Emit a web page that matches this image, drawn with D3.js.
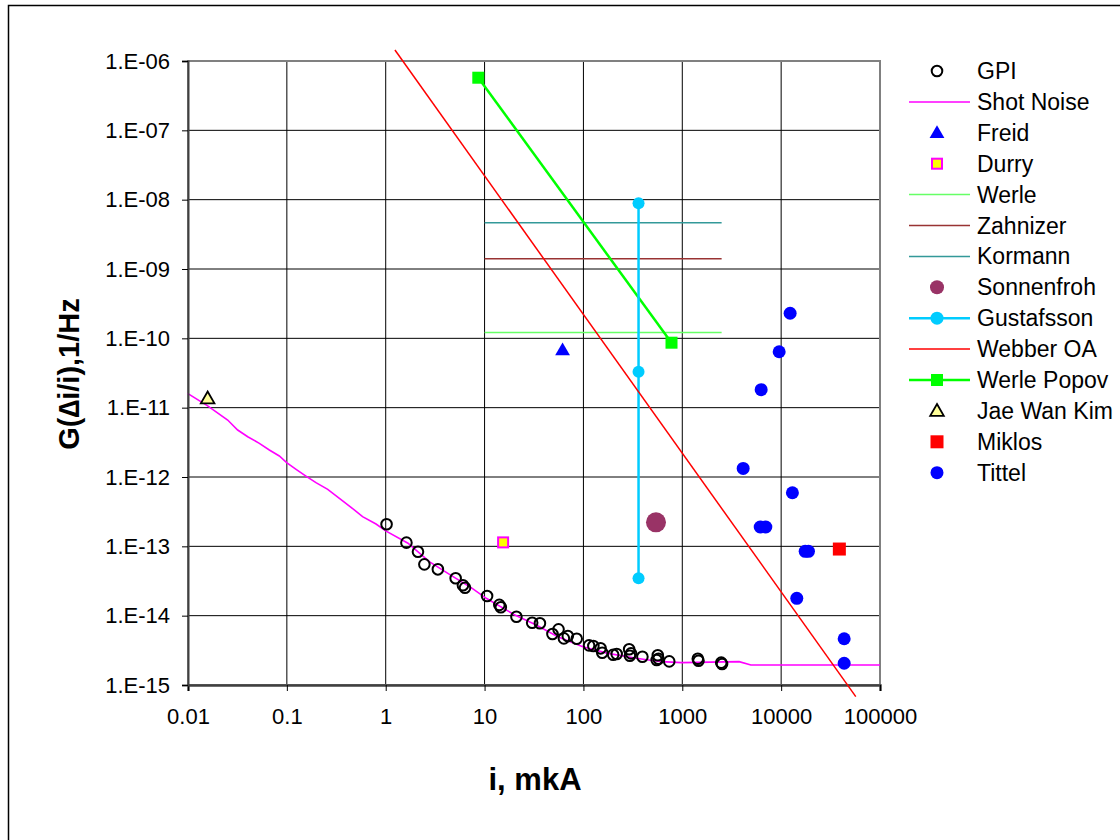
<!DOCTYPE html>
<html><head><meta charset="utf-8">
<script src="https://cdn.jsdelivr.net/npm/d3@7"></script>
<style>
html,body{margin:0;padding:0;background:#fff;}
svg text{font-family:"Liberation Sans",Arial,sans-serif;}
</style></head>
<body>
<svg id="chart" width="1120" height="840"></svg>
<script>
// ---------- data ----------
const xTicks = [0.01, 0.1, 1, 10, 100, 1000, 10000, 100000];
const xTickLabels = ["0.01", "0.1", "1", "10", "100", "1000", "10000", "100000"];
const yTicks = [1e-6, 1e-7, 1e-8, 1e-9, 1e-10, 1e-11, 1e-12, 1e-13, 1e-14, 1e-15];
const yTickLabels = ["1.E-06", "1.E-07", "1.E-08", "1.E-09", "1.E-10", "1.E-11", "1.E-12", "1.E-13", "1.E-14", "1.E-15"];

const gpiX = [1.02, 1.62, 2.12, 2.46, 3.37, 5.10, 6.04, 6.34, 10.6, 14.1, 14.6, 21.0, 30.3, 36.3, 48.6, 56.0, 63.4, 69.5, 85.5, 114, 126, 149, 155, 200, 217, 290, 295, 303, 395, 565, 574, 551, 738, 1435, 1459, 2477, 2525];
const gpiY = [2.08e-13, 1.13e-13, 8.36e-14, 5.50e-14, 4.66e-14, 3.46e-14, 2.74e-14, 2.53e-14, 1.92e-14, 1.43e-14, 1.32e-14, 9.66e-15, 7.91e-15, 7.76e-15, 5.43e-15, 6.35e-15, 4.71e-15, 5.08e-15, 4.65e-15, 3.73e-15, 3.65e-15, 3.38e-15, 2.92e-15, 2.73e-15, 2.80e-15, 3.27e-15, 2.64e-15, 2.86e-15, 2.56e-15, 2.68e-15, 2.39e-15, 2.29e-15, 2.19e-15, 2.39e-15, 2.24e-15, 2.10e-15, 2.01e-15];

const shotX = [0.0099, 0.0158, 0.0252, 0.0318, 0.0402, 0.0527, 0.0665, 0.0839, 0.0995, 0.124, 0.156, 0.197, 0.259, 0.340, 0.446, 0.583, 0.798, 1.0, 1.68, 2.76, 4.54, 7.50, 10.4, 20.3, 33.3, 55.1, 98.6, 177, 342, 612, 986, 3760, 4940, 100000];
const shotY = [1.61e-11, 1.06e-11, 6.64e-12, 4.76e-12, 3.81e-12, 3.06e-12, 2.45e-12, 2.01e-12, 1.61e-12, 1.29e-12, 1.03e-12, 8.28e-13, 6.64e-13, 4.93e-13, 3.66e-13, 2.68e-13, 2.10e-13, 1.67e-13, 1.11e-13, 6.0e-14, 3.85e-14, 2.48e-14, 1.78e-14, 1.02e-14, 7.33e-15, 4.97e-15, 3.56e-15, 2.86e-15, 2.43e-15, 2.17e-15, 2.10e-15, 2.17e-15, 1.94e-15, 1.94e-15];

const freidX = [61.5], freidY = [6.8e-11];
const durryX = [15.4], durryY = [1.14e-13];
const werleX = [10, 2500], werleY = [1.21e-10, 1.21e-10];
const zahnizerX = [10, 2500], zahnizerY = [1.41e-9, 1.41e-9];
const kormannX = [10, 2500], kormannY = [4.65e-9, 4.65e-9];
const sonnenfrohX = [542], sonnenfrohY = [2.22e-13];
const gustafssonX = [361, 361, 361], gustafssonY = [8.86e-9, 3.30e-11, 3.46e-14];
const webberX = [1.24, 56900], webberY = [1.44e-6, 6.8e-16];
const popovX = [8.64, 778], popovY = [5.74e-7, 8.65e-11];
const kimX = [0.0158], kimY = [1.36e-11];
const miklosX = [38800], miklosY = [9.14e-14];
const tittelX = [12330, 9550, 6280, 4130, 13000, 6140, 7000, 17500, 18900, 14400, 43400, 43400];
const tittelY = [2.30e-10, 6.41e-11, 1.82e-11, 1.33e-12, 5.93e-13, 1.90e-13, 1.90e-13, 8.47e-14, 8.47e-14, 1.78e-14, 4.65e-15, 2.06e-15];

const legendNames = ["GPI", "Shot Noise", "Freid", "Durry", "Werle", "Zahnizer", "Kormann", "Sonnenfroh", "Gustafsson", "Webber OA", "Werle Popov", "Jae Wan Kim", "Miklos", "Tittel"];

// ---------- layout ----------
const svg = d3.select("#chart");
const x = d3.scaleLog().domain([0.01, 100000]).range([188, 880]);
const y = d3.scaleLog().domain([1e-15, 1e-6]).range([685, 61]);
const zip = (a, b) => a.map((v, i) => [v, b[i]]);

// outer chart border
svg.append("rect").attr("x", 8.5).attr("y", 5.5).attr("width", 1130).attr("height", 850)
  .attr("fill", "#fff").attr("stroke", "#000").attr("stroke-width", 1.5);

const g = svg.append("g");

// gridlines
g.selectAll(".vg").data(xTicks).join("line")
  .attr("x1", d => x(d)).attr("x2", d => x(d)).attr("y1", 61).attr("y2", 685)
  .attr("stroke", "#000").attr("stroke-width", 1);
g.selectAll(".hg").data(yTicks).join("line")
  .attr("x1", 188).attr("x2", 880).attr("y1", d => y(d)).attr("y2", d => y(d))
  .attr("stroke", "#000").attr("stroke-width", 1);

// plot border
g.append("rect").attr("x", 188).attr("y", 61).attr("width", 692).attr("height", 624)
  .attr("fill", "none").attr("stroke", "#808080").attr("stroke-width", 2);

// axes
const xAxis = d3.axisBottom(x).tickValues(xTicks).tickFormat((d, i) => xTickLabels[i]).tickSize(6).tickPadding(17);
const gx = svg.append("g").attr("transform", "translate(0,685)").call(xAxis);
gx.select(".domain").attr("stroke", "#404040").attr("stroke-width", 2.5);
gx.selectAll(".tick line").attr("stroke", "#000");
gx.selectAll("text").attr("font-size", 22).attr("fill", "#000").attr("font-family", "Liberation Sans, Arial");

const yAxis = d3.axisLeft(y).tickValues(yTicks).tickFormat((d, i) => yTickLabels[i]).tickSize(6).tickPadding(12);
const gy = svg.append("g").attr("transform", "translate(188,0)").call(yAxis);
gy.select(".domain").attr("stroke", "#404040").attr("stroke-width", 2);
gy.selectAll(".tick line").attr("stroke", "#000");
gy.selectAll("text").attr("font-size", 22).attr("fill", "#000").attr("font-family", "Liberation Sans, Arial");

// titles
svg.append("text").attr("x", 535).attr("y", 790).attr("text-anchor", "middle")
  .attr("font-size", 31).attr("font-weight", "bold").text("i, mkA");
svg.append("text").attr("transform", "translate(79,374) rotate(-90)").attr("text-anchor", "middle")
  .attr("font-size", 29).attr("font-weight", "bold").text("G(\u2206i/i),1/Hz");

// ---------- series ----------
const line = d3.line().x(d => x(d[0])).y(d => y(d[1]));
const tri = d3.symbol().type(d3.symbolTriangle);

// horizontal lines
g.append("path").datum(zip(kormannX, kormannY)).attr("d", line).attr("fill", "none").attr("stroke", "#339999").attr("stroke-width", 1.5);
g.append("path").datum(zip(zahnizerX, zahnizerY)).attr("d", line).attr("fill", "none").attr("stroke", "#993333").attr("stroke-width", 1.5);
g.append("path").datum(zip(werleX, werleY)).attr("d", line).attr("fill", "none").attr("stroke", "#66ff66").attr("stroke-width", 1.5);

// Shot noise
g.append("path").datum(zip(shotX, shotY)).attr("d", line).attr("fill", "none").attr("stroke", "#ff00ff").attr("stroke-width", 1.6);

// Webber OA
svg.append("path").datum(zip(webberX, webberY)).attr("d", line).attr("fill", "none").attr("stroke", "#ff0000").attr("stroke-width", 1.5);

// Werle Popov
g.append("path").datum(zip(popovX, popovY)).attr("d", line).attr("fill", "none").attr("stroke", "#00ff00").attr("stroke-width", 2.5);
g.selectAll(".pop").data(zip(popovX, popovY)).join("rect")
  .attr("x", d => x(d[0]) - 6).attr("y", d => y(d[1]) - 6).attr("width", 12).attr("height", 12).attr("fill", "#00ff00");

// Gustafsson
g.append("path").datum(zip(gustafssonX, gustafssonY)).attr("d", line).attr("fill", "none").attr("stroke", "#00ccff").attr("stroke-width", 2.5);
g.selectAll(".gus").data(zip(gustafssonX, gustafssonY)).join("circle")
  .attr("cx", d => x(d[0])).attr("cy", d => y(d[1])).attr("r", 6).attr("fill", "#00ccff");

// Sonnenfroh
g.selectAll(".son").data(zip(sonnenfrohX, sonnenfrohY)).join("circle")
  .attr("cx", d => x(d[0])).attr("cy", d => y(d[1])).attr("r", 10).attr("fill", "#993366");

// Freid
g.selectAll(".fre").data(zip(freidX, freidY)).join("path")
  .attr("transform", d => `translate(${x(d[0])},${y(d[1]) + 1})`).attr("d", tri.size(95)).attr("fill", "#0000ff");

// Durry
g.selectAll(".dur").data(zip(durryX, durryY)).join("rect")
  .attr("x", d => x(d[0]) - 5).attr("y", d => y(d[1]) - 5).attr("width", 10).attr("height", 10)
  .attr("fill", "#ffff00").attr("stroke", "#ff00ff").attr("stroke-width", 2);

// Jae Wan Kim
g.selectAll(".kim").data(zip(kimX, kimY)).join("path")
  .attr("transform", d => `translate(${x(d[0])},${y(d[1]) + 1})`).attr("d", tri.size(80))
  .attr("fill", "#ffff99").attr("stroke", "#000").attr("stroke-width", 1.8);

// Miklos
g.selectAll(".mik").data(zip(miklosX, miklosY)).join("rect")
  .attr("x", d => x(d[0]) - 6.5).attr("y", d => y(d[1]) - 6.5).attr("width", 13).attr("height", 13).attr("fill", "#ff0000");

// Tittel
g.selectAll(".tit").data(zip(tittelX, tittelY)).join("circle")
  .attr("cx", d => x(d[0])).attr("cy", d => y(d[1])).attr("r", 6.5).attr("fill", "#0000ff");

// GPI
g.selectAll(".gpi").data(zip(gpiX, gpiY)).join("circle")
  .attr("cx", d => x(d[0])).attr("cy", d => y(d[1])).attr("r", 5.3).attr("fill", "none")
  .attr("stroke", "#000").attr("stroke-width", 2);

// ---------- legend ----------
const lg = svg.append("g");
const rowY = i => 71 + i * 30.9;
const mx = 937, lx1 = 909, lx2 = 970;
legendNames.forEach((name, i) => {
  const cy = rowY(i);
  lg.append("text").attr("x", 977).attr("y", cy + 8).attr("font-size", 23).attr("fill", "#000").text(name);
  const hl = (col, w) => lg.append("line").attr("x1", lx1).attr("x2", lx2).attr("y1", cy).attr("y2", cy).attr("stroke", col).attr("stroke-width", w);
  switch (name) {
    case "GPI": lg.append("circle").attr("cx", mx).attr("cy", cy).attr("r", 5.3).attr("fill", "none").attr("stroke", "#000").attr("stroke-width", 2); break;
    case "Shot Noise": hl("#ff00ff", 1.5); break;
    case "Freid": lg.append("path").attr("transform", `translate(${mx},${cy + 1})`).attr("d", tri.size(95)).attr("fill", "#0000ff"); break;
    case "Durry": lg.append("rect").attr("x", mx - 5).attr("y", cy - 5).attr("width", 10).attr("height", 10).attr("fill", "#ffff00").attr("stroke", "#ff00ff").attr("stroke-width", 2); break;
    case "Werle": hl("#66ff66", 1.5); break;
    case "Zahnizer": hl("#993333", 1.5); break;
    case "Kormann": hl("#339999", 1.5); break;
    case "Sonnenfroh": lg.append("circle").attr("cx", mx).attr("cy", cy).attr("r", 7).attr("fill", "#993366"); break;
    case "Gustafsson": hl("#00ccff", 2.5); lg.append("circle").attr("cx", mx).attr("cy", cy).attr("r", 6.5).attr("fill", "#00ccff"); break;
    case "Webber OA": hl("#ff0000", 1.5); break;
    case "Werle Popov": hl("#00ff00", 2.5); lg.append("rect").attr("x", mx - 6).attr("y", cy - 6).attr("width", 12).attr("height", 12).attr("fill", "#00ff00"); break;
    case "Jae Wan Kim": lg.append("path").attr("transform", `translate(${mx},${cy + 1})`).attr("d", tri.size(80)).attr("fill", "#ffff99").attr("stroke", "#000").attr("stroke-width", 1.8); break;
    case "Miklos": lg.append("rect").attr("x", mx - 6.5).attr("y", cy - 6.5).attr("width", 13).attr("height", 13).attr("fill", "#ff0000"); break;
    case "Tittel": lg.append("circle").attr("cx", mx).attr("cy", cy).attr("r", 6.5).attr("fill", "#0000ff"); break;
  }
});
</script>
</body></html>
